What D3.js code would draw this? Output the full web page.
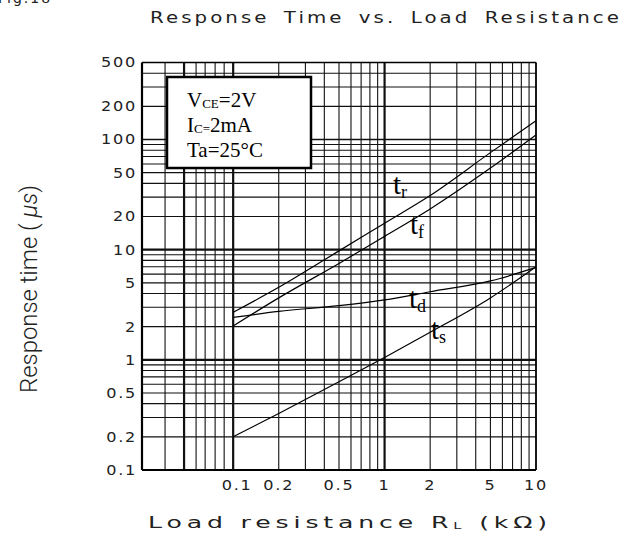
<!DOCTYPE html>
<html><head><meta charset="utf-8">
<script src="https://cdn.jsdelivr.net/npm/d3@7"></script>
<style>body{margin:0;background:#fff}svg{display:block}</style>
</head><body>
<script>
// ---- data ----
const resistance = [0.1, 0.2, 0.5, 1, 2, 5, 10];            // kΩ
const tr = [2.7, 4.55, 9.75, 17.4, 31, 76, 148];             // µs
const tf = [2.03, 3.65, 7.5, 13.2, 23.4, 55, 110];
const td = [2.43, 2.75, 3.1, 3.5, 4.15, 5.2, 6.9];
const ts = [0.2, 0.326, 0.632, 1.05, 1.78, 3.65, 7.0];
const seriesNames = ["tr", "tf", "td", "ts"];
const xTickLabels = ["0.1", "0.2", "0.5", "1", "2", "5", "10"];
const yTickLabels = ["0.1", "0.2", "0.5", "1", "2", "5", "10", "20", "50", "100", "200", "500"];
const xGridLeft = [0.0355, 0.0474, 0.0569, 0.0653, 0.076, 0.0872];

const W = 639, H = 540;
const svg = d3.select("body").append("svg").attr("width", W).attr("height", H);

const x = d3.scaleLog().domain([0.025, 10]).range([142, 536]);
const y = d3.scaleLog().domain([0.1, 500]).range([470, 62.5]);

const plotFont = "'DejaVu Sans', sans-serif";

// grid values
const xGrid = xGridLeft.slice();
[0.1, 1].forEach(d => { for (let k = 1; k <= 9; k++) xGrid.push(+(d * k).toPrecision(3)); });
xGrid.push(10);
const yGrid = [];
[0.1, 1, 10, 100].forEach(d => { for (let k = 1; k <= 9; k++) { const v = +(d * k).toPrecision(3); if (v <= 500) yGrid.push(v); } });

const boldX = [0.0474, 0.1, 1];
const boldY = [1, 10];

const g = svg.append("g");
g.selectAll("line.vx").data(xGrid).join("line")
  .attr("x1", d => x(d)).attr("x2", d => x(d))
  .attr("y1", y(500)).attr("y2", y(0.1))
  .attr("stroke", "#111")
  .attr("stroke-width", d => boldX.includes(d) ? 2.2 : 1.1);
g.selectAll("line.hy").data(yGrid).join("line")
  .attr("x1", x(0.025)).attr("x2", x(10))
  .attr("y1", d => y(d)).attr("y2", d => y(d))
  .attr("stroke", "#111")
  .attr("stroke-width", d => boldY.includes(d) ? 2.2 : (d === 100 ? 1.6 : 1.1));

// frame
g.append("line").attr("x1", x(0.025)).attr("x2", x(0.025)).attr("y1", y(500)).attr("y2", y(0.1)).attr("stroke", "#000").attr("stroke-width", 2.2);
g.append("line").attr("x1", x(0.025)).attr("x2", x(10)).attr("y1", y(0.1)).attr("y2", y(0.1)).attr("stroke", "#000").attr("stroke-width", 2);
g.append("line").attr("x1", x(0.025)).attr("x2", x(10)).attr("y1", y(500)).attr("y2", y(500)).attr("stroke", "#000").attr("stroke-width", 1.6);
g.append("line").attr("x1", x(10)).attr("x2", x(10)).attr("y1", y(500)).attr("y2", y(0.1)).attr("stroke", "#000").attr("stroke-width", 1.6);

// curves
const line = d3.line().x(d => x(d[0])).y(d => y(d[1])).curve(d3.curveMonotoneX);
const series = [tr, tf, td, ts];
series.forEach((s, i) => {
  svg.append("path").attr("d", line(resistance.map((r, j) => [r, s[j]])))
    .attr("fill", "none").attr("stroke", "#000").attr("stroke-width", 1.2)
    .attr("class", seriesNames[i]);
});

// curve labels
const serif = "'Liberation Serif', 'Times New Roman', serif";
const labels = [
  {t: "t", s: "r", x: 393, y: 194},
  {t: "t", s: "f", x: 410, y: 234},
  {t: "t", s: "d", x: 409, y: 308},
  {t: "t", s: "s", x: 431, y: 339}
];
labels.forEach(l => {
  const t = svg.append("text").attr("x", l.x).attr("y", l.y)
    .attr("font-family", serif).attr("font-size", 29).attr("fill", "#000");
  t.append("tspan").text(l.t);
  t.append("tspan").attr("dy", 4).attr("font-size", 18).text(l.s);
});

// legend box
svg.append("rect").attr("x", 167).attr("y", 77).attr("width", 144).attr("height", 91)
  .attr("fill", "#fff").attr("stroke", "#000").attr("stroke-width", 2.5);
const lg = [
  {main: "V", sub: "CE", rest: "=2V", y: 107},
  {main: "I", sub: "C=", rest: "2mA", y: 132},
  {main: "Ta=25°C", sub: "", rest: "", y: 157}
];
lg.forEach(l => {
  const t = svg.append("text").attr("x", 187).attr("y", l.y)
    .attr("font-family", serif).attr("font-size", 21).attr("fill", "#000");
  t.append("tspan").text(l.main);
  if (l.sub) t.append("tspan").attr("font-size", 13).attr("dy", 1).text(l.sub);
  if (l.rest) t.append("tspan").attr("dy", -1).text(l.rest);
});

// y tick labels
const yTickVals = yTickLabels.map(Number);
svg.selectAll("text.yt").data(yTickVals).join("text")
  .attr("x", 137).attr("y", d => y(d) + 5)
  .attr("text-anchor", "end").attr("font-family", plotFont).attr("font-size", 14)
  .attr("letter-spacing", 1.5).attr("fill", "#222")
  .attr("transform", d => `translate(137,0) scale(1.15,1) translate(-137,0)`)
  .text((d, i) => yTickLabels[i]);

// x tick labels
const xTickVals = xTickLabels.map(Number);
svg.selectAll("text.xt").data(xTickVals).join("text")
  .attr("x", 0).attr("y", 0)
  .attr("transform", d => `translate(${x(d) + (d === 0.1 ? 4 : 0)},490) scale(1.15,1)`)
  .attr("text-anchor", "middle").attr("font-family", plotFont).attr("font-size", 14)
  .attr("letter-spacing", 1.5).attr("fill", "#222")
  .text((d, i) => xTickLabels[i]);

// title
svg.append("text").attr("x", 150).attr("y", 23)
  .attr("font-family", plotFont).attr("font-size", 16).attr("fill", "#222")
  .attr("letter-spacing", 2.5).attr("word-spacing", 4)
  .attr("textLength", 472).attr("lengthAdjust", "spacingAndGlyphs")
  .text("Response Time vs. Load Resistance");

// fig label (cut off at top, as in reference)
svg.append("text").attr("x", -2).attr("y", 3)
  .attr("font-family", plotFont).attr("font-size", 14).attr("fill", "#222")
  .attr("letter-spacing", 2).text("Fig.18");

// x axis title
const xt = svg.append("text").attr("x", 148).attr("y", 528)
  .attr("font-family", plotFont).attr("font-size", 15.5).attr("fill", "#222")
  .attr("letter-spacing", 3)
  .attr("textLength", 404).attr("lengthAdjust", "spacingAndGlyphs");
xt.append("tspan").text("Load resistance  R");
xt.append("tspan").attr("font-size", 9).attr("dy", 1).text("L");
xt.append("tspan").attr("dy", -1).text("   (kΩ)");

// y axis title
const yt = svg.append("text")
  .attr("transform", "translate(37,393) rotate(-90)")
  .attr("font-family", "Roboto, 'DejaVu Sans', sans-serif").attr("font-weight", 300)
  .attr("font-size", 24).attr("fill", "#222")
  .attr("textLength", 208).attr("lengthAdjust", "spacingAndGlyphs");
yt.append("tspan").text("Response time   ( ");
yt.append("tspan").attr("font-style", "italic").text("μs");
yt.append("tspan").text(")");
</script>
</body></html>
